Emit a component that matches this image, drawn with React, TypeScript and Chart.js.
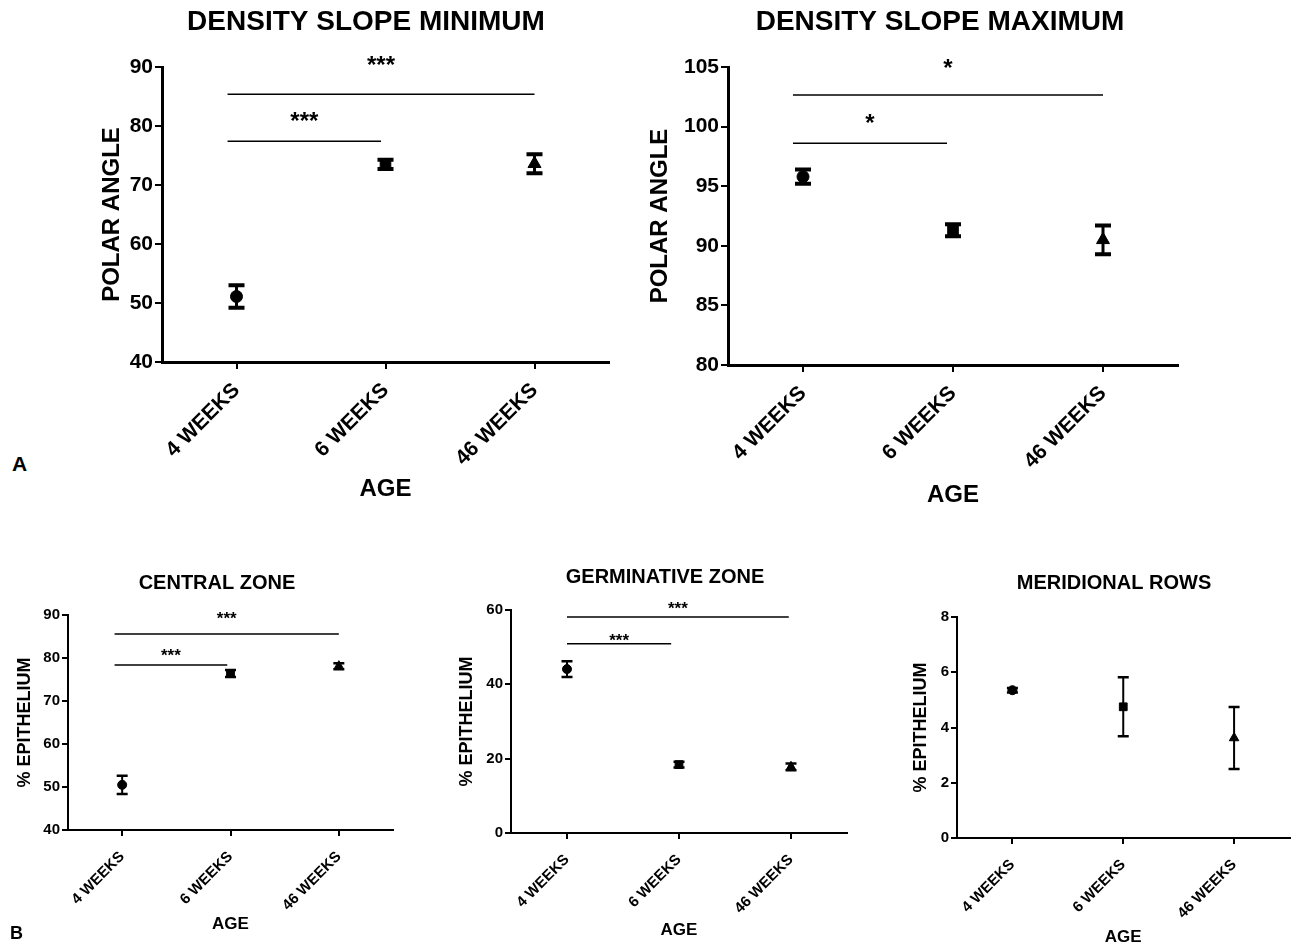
import React, { useEffect, useRef } from 'react';
import { Chart, registerables } from 'chart.js';

Chart.register(...registerables);

const FONT = '"Liberation Sans", Arial, Helvetica, sans-serif';

// ---------- data ----------
const ageLabels = ['4 WEEKS', '6 WEEKS', '46 WEEKS'];
const markerStyles = ['circle', 'rect', 'triangle'];

const minMean = [51.1, 73.5, 73.6];
const minErr = [1.9, 0.8, 1.6];
const maxMean = [95.8, 91.3, 90.5];
const maxErr = [0.6, 0.5, 1.2];
const centralMean = [50.5, 76.4, 78.1];
const centralErr = [2.1, 0.8, 0.7];
const germMean = [44.1, 18.4, 17.8];
const germErr = [2.1, 0.8, 0.9];
const merMean = [5.35, 4.75, 3.62];
const merErr = [0.08, 1.07, 1.12];

// significance brackets: [fromCategory, toCategory, lineValue, starValue, label]
const minBrackets = [
  [-0.06, 0.97, 77.4, 81.9, '***'],
  [-0.06, 2, 85.4, 91.4, '***'],
];
const maxBrackets = [
  [-0.067, 0.96, 98.6, 100.8, '*'],
  [-0.067, 2, 102.65, 105.4, '*'],
];
const centralBrackets = [
  [-0.07, 0.97, 78.4, 81.6, '***'],
  [-0.07, 2, 85.6, 90.2, '***'],
];
const germBrackets = [
  [0, 0.93, 50.9, 53.0, '***'],
  [0, 1.98, 58.1, 61.6, '***'],
];
const merBrackets: any[] = [];

// y axis ranges: [min, max, step]
const minRange = [40, 90, 10];
const maxRange = [80, 105, 5];
const centralRange = [40, 90, 10];
const germRange = [0, 60, 20];
const merRange = [0, 8, 2];

// ---------- panel specs (layout only) ----------
const big = {
  tickFont: 21, xTickFont: 21, xTickPad: 9, yTitleFont: 24, xTitleFont: 24, titleFont: 28, starFont: 24,
  axisW: 3, tickW: 2, tickLen: 7, barW: 3, capW: 4, capHalf: 8, radii: [6, 7.5, 7.5], bracketW: 1.5,
};
const small = {
  tickFont: 15, xTickFont: 15, xTickPad: 12, yTitleFont: 18, xTitleFont: 17, titleFont: 20, starFont: 17,
  axisW: 2, tickW: 2, tickLen: 6, barW: 2, capW: 2.5, capHalf: 5.5, radii: [4.5, 5.5, 5.5], bracketW: 1.5,
};

const panels = [
  {
    title: 'DENSITY SLOPE MINIMUM', yTitle: 'POLAR ANGLE', mean: minMean, err: minErr, brackets: minBrackets, range: minRange,
    box: { x: 40, y: 0, w: 600, h: 525 }, area: { l: 162, t: 67, r: 609, b: 362 },
    titlePos: [366, 22], yTitlePad: 60, xTitlePad: 24, st: big,
  },
  {
    title: 'DENSITY SLOPE MAXIMUM', yTitle: 'POLAR ANGLE', mean: maxMean, err: maxErr, brackets: maxBrackets, range: maxRange,
    box: { x: 640, y: 0, w: 656, h: 525 }, area: { l: 728, t: 67, r: 1178, b: 365 },
    titlePos: [940, 22], yTitlePad: 8, xTitlePad: 18, st: big,
  },
  {
    title: 'CENTRAL ZONE', yTitle: '% EPITHELIUM', mean: centralMean, err: centralErr, brackets: centralBrackets, range: centralRange,
    box: { x: 0, y: 540, w: 420, h: 404 }, area: { l: 68, t: 615, r: 393, b: 830 },
    titlePos: [217, 583], yTitlePad: 16.5, xTitlePad: 11.5, st: small,
  },
  {
    title: 'GERMINATIVE ZONE', yTitle: '% EPITHELIUM', mean: germMean, err: germErr, brackets: germBrackets, range: germRange,
    box: { x: 420, y: 540, w: 460, h: 404 }, area: { l: 511, t: 610, r: 847, b: 833 },
    titlePos: [665, 577], yTitlePad: 38, xTitlePad: 5.5, st: small,
  },
  {
    title: 'MERIDIONAL ROWS', yTitle: '% EPITHELIUM', mean: merMean, err: merErr, brackets: merBrackets, range: merRange,
    box: { x: 880, y: 540, w: 416, h: 404 }, area: { l: 957, t: 617, r: 1290, b: 838 },
    titlePos: [1114, 583], yTitlePad: 32.5, xTitlePad: -1.5, st: small,
  },
];

function makeDeco(p: any) {
  const st = p.st;
  return {
    id: 'panelDeco',
    afterDatasetsDraw(chart: any) {
      const ctx = chart.ctx;
      const xs = chart.scales.x;
      const ys = chart.scales.y;
      chart.data.datasets.forEach((ds: any) => {
        const errs = ds.errors;
        if (!errs) return;
        ds.data.forEach((v: number, i: number) => {
          const px = xs.getPixelForValue(i);
          const yt = ys.getPixelForValue(v + errs[i]);
          const yb = ys.getPixelForValue(v - errs[i]);
          ctx.save();
          ctx.strokeStyle = '#000';
          ctx.lineWidth = st.barW;
          ctx.beginPath();
          ctx.moveTo(px, yt);
          ctx.lineTo(px, yb);
          ctx.stroke();
          ctx.lineWidth = st.capW;
          ctx.beginPath();
          ctx.moveTo(px - st.capHalf, yt);
          ctx.lineTo(px + st.capHalf, yt);
          ctx.moveTo(px - st.capHalf, yb);
          ctx.lineTo(px + st.capHalf, yb);
          ctx.stroke();
          ctx.restore();
        });
      });
    },
    afterDraw(chart: any) {
      const ctx = chart.ctx;
      const xs = chart.scales.x;
      const ys = chart.scales.y;
      ctx.save();
      ctx.fillStyle = '#000';
      ctx.strokeStyle = '#000';
      p.brackets.forEach((b: any) => {
        const x1 = xs.getPixelForValue(b[0]);
        const x2 = xs.getPixelForValue(b[1]);
        const y = ys.getPixelForValue(b[2]);
        ctx.lineWidth = st.bracketW;
        ctx.beginPath();
        ctx.moveTo(x1, y);
        ctx.lineTo(x2, y);
        ctx.stroke();
        ctx.font = `bold ${st.starFont}px ${FONT}`;
        ctx.textAlign = 'center';
        ctx.textBaseline = 'alphabetic';
        ctx.fillText(b[4], (x1 + x2) / 2, ys.getPixelForValue(b[3]) + 0.58 * st.starFont);
      });
      ctx.font = `bold ${st.titleFont}px ${FONT}`;
      ctx.textAlign = 'center';
      ctx.textBaseline = 'middle';
      ctx.fillText(p.title, p.titlePos[0] - p.box.x, p.titlePos[1] - p.box.y);
      ctx.restore();
    },
  };
}

function makeConfig(p: any): any {
  const st = p.st;
  const { box, area } = p;
  return {
    type: 'line',
    data: {
      labels: ageLabels,
      datasets: [
        {
          data: p.mean,
          errors: p.err,
          showLine: false,
          pointStyle: markerStyles,
          pointRadius: st.radii,
          pointHoverRadius: st.radii,
          pointBackgroundColor: '#000',
          pointBorderColor: '#000',
          pointBorderWidth: 1,
          borderColor: '#000',
          backgroundColor: '#000',
        },
      ],
    },
    options: {
      responsive: false,
      animation: false,
      events: [],
      layout: { padding: { left: 0, top: area.t - box.y, right: box.x + box.w - area.r, bottom: 0 } },
      plugins: { legend: { display: false }, tooltip: { enabled: false }, title: { display: false } },
      scales: {
        x: {
          type: 'category',
          offset: true,
          grid: { display: true, drawOnChartArea: false, drawTicks: true, tickLength: st.tickLen, color: '#000', lineWidth: st.tickW },
          border: { display: true, color: '#000', width: st.axisW },
          ticks: {
            autoSkip: false, maxRotation: 45, minRotation: 45, padding: st.xTickPad, color: '#000',
            font: { family: FONT, size: st.xTickFont, weight: 'bold' },
          },
          title: {
            display: true, text: 'AGE', color: '#000',
            font: { family: FONT, size: st.xTitleFont, weight: 'bold', lineHeight: 1 },
            padding: { top: 0, bottom: p.xTitlePad },
          },
          afterFit: (s: any) => { s.height = box.y + box.h - area.b; },
        },
        y: {
          min: p.range[0], max: p.range[1],
          grid: { display: true, drawOnChartArea: false, drawTicks: true, tickLength: st.tickLen, color: '#000', lineWidth: st.tickW },
          border: { display: true, color: '#000', width: st.axisW },
          ticks: {
            stepSize: p.range[2], padding: 2, color: '#000',
            font: { family: FONT, size: st.tickFont, weight: 'bold' },
          },
          title: {
            display: true, text: p.yTitle, color: '#000',
            font: { family: FONT, size: st.yTitleFont, weight: 'bold', lineHeight: 1 },
            padding: { top: p.yTitlePad, bottom: 0 },
          },
          afterFit: (s: any) => { s.width = area.l - box.x; },
        },
      },
    },
    plugins: [makeDeco(p)],
  };
}

function Panel({ p }: { p: any }) {
  const ref = useRef<HTMLCanvasElement>(null);
  useEffect(() => {
    const chart = new Chart(ref.current as HTMLCanvasElement, makeConfig(p));
    return () => chart.destroy();
  }, [p]);
  return (
    <canvas
      ref={ref}
      width={p.box.w}
      height={p.box.h}
      style={{ position: 'absolute', left: p.box.x, top: p.box.y, width: p.box.w, height: p.box.h }}
    />
  );
}

const letterStyle: any = {
  position: 'absolute', fontFamily: FONT, fontWeight: 'bold', color: '#000', margin: 0,
};

export default function App() {
  return (
    <div style={{ position: 'absolute', left: 0, top: 0, width: 1296, height: 944, overflow: 'hidden', background: '#fff' }}>
      {panels.map((p, i) => (
        <Panel key={i} p={p} />
      ))}
      <div style={{ ...letterStyle, left: 12, top: 453, fontSize: 21, lineHeight: '21px' }}>A</div>
      <div style={{ ...letterStyle, left: 10, top: 924, fontSize: 18, lineHeight: '18px' }}>B</div>
    </div>
  );
}
